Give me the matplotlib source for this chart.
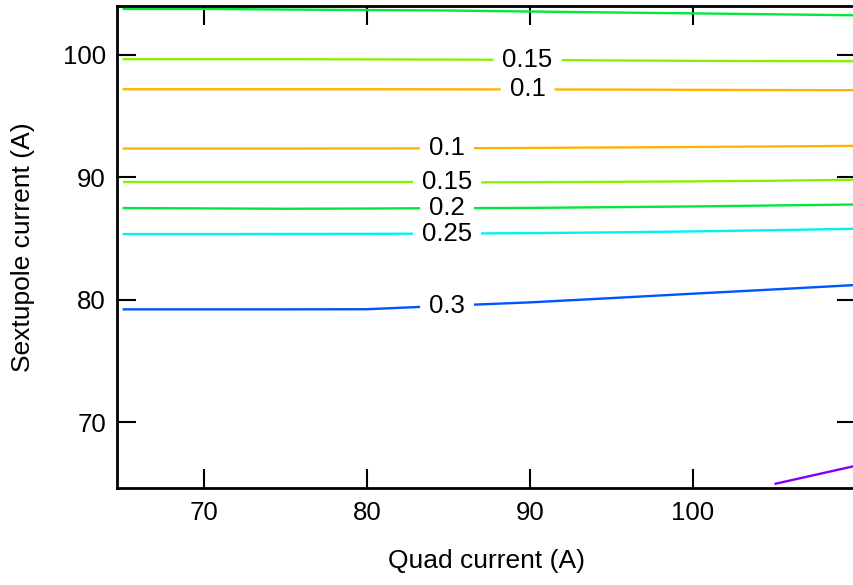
import numpy as np
import matplotlib
matplotlib.use("Agg")
import matplotlib.pyplot as plt

plt.rcParams['font.family'] = ['Liberation Sans', 'DejaVu Sans']

# ---- data ----
quad = [65, 70, 75, 80, 85, 90, 95, 100, 105, 110]

c020_top = [103.76, 103.76, 103.71, 103.67, 103.63, 103.55, 103.47, 103.40, 103.32, 103.24]
c015_up = [99.65, 99.65, 99.65, 99.64, 99.62, 99.60, 99.55, 99.52, 99.50, 99.49]
c010_up = [97.20, 97.20, 97.20, 97.20, 97.19, 97.18, 97.17, 97.15, 97.13, 97.12]
c010_lo = [92.35, 92.35, 92.35, 92.36, 92.37, 92.40, 92.44, 92.48, 92.52, 92.57]
c015_lo = [89.58, 89.58, 89.58, 89.58, 89.58, 89.60, 89.63, 89.67, 89.72, 89.80]
c020_lo = [87.49, 87.46, 87.43, 87.45, 87.48, 87.50, 87.56, 87.62, 87.70, 87.78]
c025 = [85.36, 85.36, 85.37, 85.38, 85.40, 85.44, 85.50, 85.58, 85.68, 85.80]
c030 = [79.21, 79.21, 79.21, 79.22, 79.51, 79.78, 80.13, 80.49, 80.84, 81.20]
quad_035 = [105, 110]
c035 = [64.94, 66.43]

level_names = ["0.1", "0.15", "0.2", "0.25", "0.3", "0.35"]
level_colors = ["#ffb200", "#86f200", "#00e83a", "#00f2f2", "#0055ff", "#8000ff"]

label_x_upper = 89.85
label_x_lower = 84.91

x_ticks = [70, 80, 90, 100]
y_ticks = [70, 80, 90, 100]

# (x, y, level index, label x or None)
contours = [
    (quad, c020_top, 2, None),
    (quad, c015_up, 1, label_x_upper),
    (quad, c010_up, 0, label_x_upper),
    (quad, c010_lo, 0, label_x_lower),
    (quad, c015_lo, 1, label_x_lower),
    (quad, c020_lo, 2, label_x_lower),
    (quad, c025, 3, label_x_lower),
    (quad, c030, 4, label_x_lower),
    (quad_035, c035, 5, None),
]

fig = plt.figure(figsize=(8.54, 5.85), dpi=100)
ax = fig.add_axes([117 / 854, 97 / 585, 739 / 854, 482 / 585])
ax.set_xlim(64.66, 110.0)
ax.set_ylim(64.61, 104.0)

fig.canvas.draw()
renderer = fig.canvas.get_renderer()
inv = ax.transData.inverted()
gap_px = 9

for xs, ys, li, lx in contours:
    xs = np.asarray(xs, float)
    ys = np.asarray(ys, float)
    col = level_colors[li]
    if lx is None:
        ax.plot(xs, ys, color=col, lw=1.7, solid_capstyle='butt')
        continue
    ly = np.interp(lx, xs, ys)
    t = ax.text(lx, ly, level_names[li], ha='center', va='center', fontsize=18.5, color='black')
    bb = t.get_window_extent(renderer)
    x0 = inv.transform((bb.x0 - gap_px, bb.y0))[0]
    x1 = inv.transform((bb.x1 + gap_px, bb.y0))[0]
    lm = xs < x0
    rm = xs > x1
    xl = np.append(xs[lm], x0)
    yl = np.append(ys[lm], np.interp(x0, xs, ys))
    xr = np.insert(xs[rm], 0, x1)
    yr = np.insert(ys[rm], 0, np.interp(x1, xs, ys))
    ax.plot(xl, yl, color=col, lw=1.7, solid_capstyle='butt')
    ax.plot(xr, yr, color=col, lw=1.7, solid_capstyle='butt')

ax.set_xticks(x_ticks)
ax.set_yticks(y_ticks)
ax.tick_params(axis='both', which='major', direction='in', length=13.7, width=1.5,
               top=True, right=True, labelsize=18.5, color='black')
ax.tick_params(axis='x', pad=9.5)
ax.tick_params(axis='y', pad=8)
for s in ax.spines.values():
    s.set_linewidth(2)
    s.set_color('black')

ax.set_xlabel("Quad current (A)", fontsize=19, labelpad=17)
ax.set_ylabel("Sextupole current (A)", fontsize=19, labelpad=20)

fig.savefig("out.png", dpi=100)
